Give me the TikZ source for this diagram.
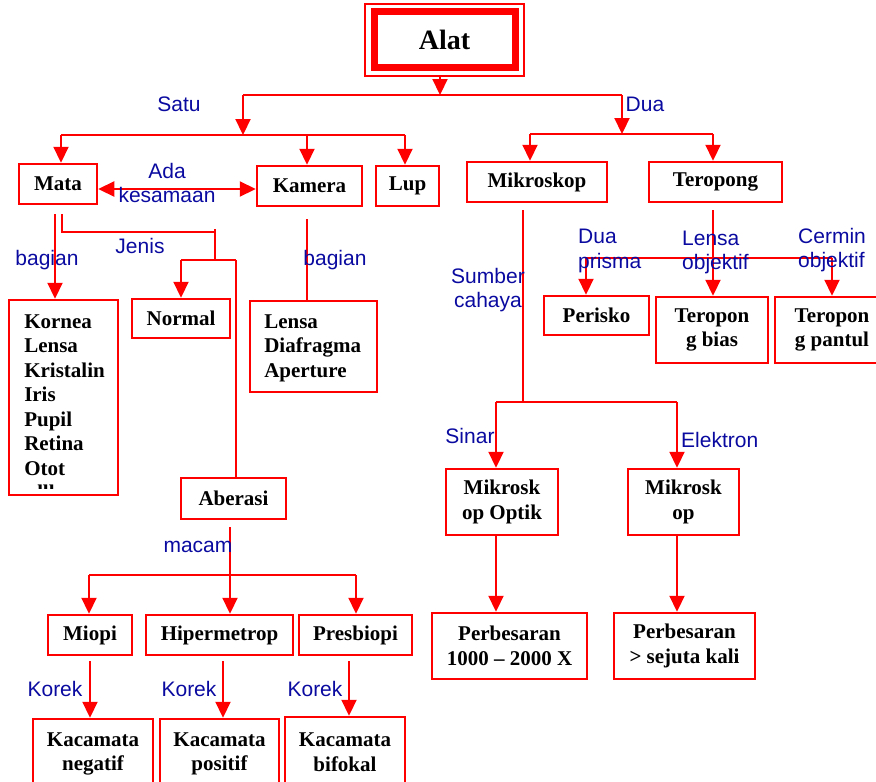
\documentclass[tikz,border=0pt]{standalone}
\usepackage{fontspec}
\setmainfont{Liberation Serif}
\newfontfamily\labfont{Liberation Sans}
\usetikzlibrary{arrows.meta,calc}
\definecolor{lblue}{RGB}{10,10,160}
\begin{document}
\begin{tikzpicture}[x=1pt,y=-1pt,
 box/.style={draw=red,line width=2.5pt,inner sep=0pt,align=center,font=\bfseries\fontsize{21}{24.5}\selectfont},
 ln/.style={draw=red,line width=2.2pt},
 arr/.style={ln,-{Triangle[length=16pt,width=15pt]}},
 darr/.style={ln,{Triangle[length=16pt,width=15pt]}-{Triangle[length=16pt,width=15pt]}},
 lab/.style={text=lblue,font=\labfont\fontsize{21}{25}\selectfont,inner sep=0pt},
]
\useasboundingbox (0,0) rectangle (876,782);

% ---------- boxes ----------
\node[box,line width=1.5pt,minimum width=159pt,minimum height=72pt,font=\bfseries\fontsize{28}{30}\selectfont] (alat) at (444.5,40) {Alat};
\node[draw=red,line width=7pt,minimum width=141pt,minimum height=55.5pt,inner sep=0pt] (alatframe) at (445,39.25) {};

\node[box,minimum width=78pt,minimum height=40pt] (mata) at (58,184) {Mata};
\node[box,minimum width=105pt,minimum height=40pt] (kamera) at (309.5,186) {Kamera};
\node[box,minimum width=63pt,minimum height=40pt] (lup) at (407.5,186) {Lup};
\node[box,minimum width=140pt,minimum height=40pt] (mikroskop) at (537,182) {Mikroskop};
\node[box,minimum width=133pt,minimum height=40pt] (teropong) at (715.5,182) {Teropong};

\node[box,minimum width=109pt,minimum height=195pt] (kornea) at (63.5,397.5) {};
\node[box,draw=none,anchor=north west,align=left] (korneatxt) at (23,313) {Kornea\\Lensa\\Kristalin\\Iris\\Pupil\\Retina\\Otot};
\begin{scope}
\clip (12,300) rectangle (115,488.5);
\node[box,draw=none,anchor=base west] (korneamore) at (30,499) {dll};
\end{scope}

\node[box,minimum width=98pt,minimum height=39pt] (normal) at (181,318.5) {Normal};
\node[box,minimum width=127pt,minimum height=91pt] (kamparts) at (313.5,346.5) {};
\node[box,draw=none,anchor=north west,align=left] (kampartstxt) at (263,313) {Lensa\\Diafragma\\Aperture};
\node[box,minimum width=105pt,minimum height=41pt] (aberasi) at (233.5,498.5) {Aberasi};

\node[box,minimum width=84pt,minimum height=40pt] (miopi) at (90,635) {Miopi};
\node[box,minimum width=147pt,minimum height=40pt] (hiper) at (219.5,635) {Hipermetrop};
\node[box,minimum width=113pt,minimum height=40pt] (presbiopi) at (355.5,635) {Presbiopi};
\node[box,minimum width=120pt,minimum height=70pt] (kac1) at (93,754) {Kacamata\\negatif};
\node[box,minimum width=119pt,minimum height=70pt] (kac2) at (219.5,754) {Kacamata\\positif};
\node[box,minimum width=120pt,minimum height=70pt] (kac3) at (345,752) {Kacamata\\bifokal};

\node[box,minimum width=105pt,minimum height=39pt] (perisko) at (596.5,315.5) {Perisko};
\node[box,minimum width=112pt,minimum height=66pt] (tbias) at (712,330) {Teropon\\g bias};
\node[box,minimum width=114pt,minimum height=66pt] (tpantul) at (832,330) {Teropon\\g pantul};

\node[box,minimum width=112pt,minimum height=66pt] (optik) at (502,502) {Mikrosk\\op Optik};
\node[box,minimum width=111pt,minimum height=66pt] (elek) at (683.5,502) {Mikrosk\\op};
\node[box,minimum width=155pt,minimum height=66pt] (perb1) at (509.5,646) {Perbesaran\\1000 – 2000 X};
\node[box,minimum width=141pt,minimum height=66pt] (perb2) at (684.5,646) {Perbesaran\\> sejuta kali};

% ---------- connectors ----------
\coordinate (bar0) at (440,95);
\coordinate (barL) at (243,95);
\coordinate (barR) at (622,95);
\draw[arr] (alat.south -| bar0) -- (bar0);
\draw[ln] (barL) -- (barR);

\coordinate (satuL) at (61,135);
\coordinate (satuM) at (243,135);
\coordinate (satuK) at (307,135);
\coordinate (satuR) at (405,135);
\draw[arr] (barL) -- (satuM);
\draw[ln] (satuL) -- (satuR);
\draw[arr] (satuL) -- (mata.north -| satuL);
\draw[arr] (satuK) -- (kamera.north -| satuK);
\draw[arr] (satuR) -- (lup.north -| satuR);
\draw[darr] (mata.east |- 0,189) -- (kamera.west |- 0,189);

\coordinate (duaM) at (622,134);
\coordinate (duaL) at (530,134);
\coordinate (duaR) at (713,134);
\draw[arr] (barR) -- (duaM);
\draw[ln] (duaL) -- (duaR);
\draw[arr] (duaL) -- (mikroskop.north -| duaL);
\draw[arr] (duaR) -- (teropong.north -| duaR);

\coordinate (mb) at (55,214);
\draw[arr] (mb) -- (kornea.north -| mb);
\coordinate (j1) at (62,214);
\coordinate (j2) at (62,232);
\coordinate (j3) at (215,232);
\coordinate (j4) at (215,229);
\coordinate (j5) at (215,260);
\coordinate (jL) at (181,260);
\coordinate (jR) at (236,260);
\draw[ln] (j1) -- (j2) -- (j3);
\draw[ln] (j4) -- (j5);
\draw[ln] (jL) -- (jR);
\draw[arr] (jL) -- (normal.north -| jL);
\draw[ln] (jR) -- (aberasi.north -| jR);

\coordinate (kb) at (307,219);
\draw[ln] (kb) -- (kamparts.north -| kb);

\coordinate (ab) at (230,527);
\coordinate (abL) at (89,575);
\coordinate (abR) at (356,575);
\draw[arr] (ab) -- (hiper.north -| ab);
\draw[ln] (abL) -- (abR);
\draw[arr] (abL) -- (miopi.north -| abL);
\draw[arr] (abR) -- (presbiopi.north -| abR);

\coordinate (k1) at (90,661);
\coordinate (k2) at (223,661);
\coordinate (k3) at (349,661);
\draw[arr] (k1) -- (kac1.north -| k1);
\draw[arr] (k2) -- (kac2.north -| k2);
\draw[arr] (k3) -- (kac3.north -| k3);

\coordinate (mk) at (523,210);
\coordinate (mkM) at (523,402);
\coordinate (mkL) at (496,402);
\coordinate (mkR) at (677,402);
\draw[ln] (mk) -- (mkM);
\draw[ln] (mkL) -- (mkR);
\draw[arr] (mkL) -- (optik.north -| mkL);
\draw[arr] (mkR) -- (elek.north -| mkR);
\draw[arr] (optik.south -| mkL) -- (perb1.north -| mkL);
\draw[arr] (elek.south -| mkR) -- (perb2.north -| mkR);

\coordinate (tp) at (713,210);
\coordinate (tL) at (586,258);
\coordinate (tR) at (832,258);
\draw[arr] (tp) -- (tbias.north -| tp);
\draw[ln] (tL) -- (tR);
\draw[arr] (tL) -- (perisko.north -| tL);
\draw[arr] (tR) -- (tpantul.north -| tR);

% ---------- labels ----------
\node[lab,anchor=base] (lsatu) at (179,111) {Satu};
\node[lab,anchor=base] (ldua) at (645,111) {Dua};
\node[lab,anchor=base] (lada) at (167,178) {Ada};
\node[lab,anchor=base] (lkes) at (167,202) {kesamaan};
\node[lab,anchor=base] (lbag1) at (47,265) {bagian};
\node[lab,anchor=base] (lbag2) at (335,265) {bagian};
\node[lab,anchor=base] (ljenis) at (140,253) {Jenis};
\node[lab,anchor=base] (lsumber) at (488,283) {Sumber};
\node[lab,anchor=base] (lcahaya) at (488,307) {cahaya};
\node[lab,anchor=base west] (ldua2) at (578,243) {Dua};
\node[lab,anchor=base west] (lprisma) at (578,268) {prisma};
\node[lab,anchor=base west] (llensa) at (682,245) {Lensa};
\node[lab,anchor=base west] (lobj1) at (682,269) {objektif};
\node[lab,anchor=base west] (lcermin) at (798,243) {Cermin};
\node[lab,anchor=base west] (lobj2) at (798,267) {objektif};
\node[lab,anchor=base] (lsinar) at (470,443) {Sinar};
\node[lab,anchor=base west] (lelek) at (681,447) {Elektron};
\node[lab,anchor=base] (lmacam) at (198,552) {macam};
\node[lab,anchor=base] (lkor1) at (55,696) {Korek};
\node[lab,anchor=base] (lkor2) at (189,696) {Korek};
\node[lab,anchor=base] (lkor3) at (315,696) {Korek};
\end{tikzpicture}
\end{document}
